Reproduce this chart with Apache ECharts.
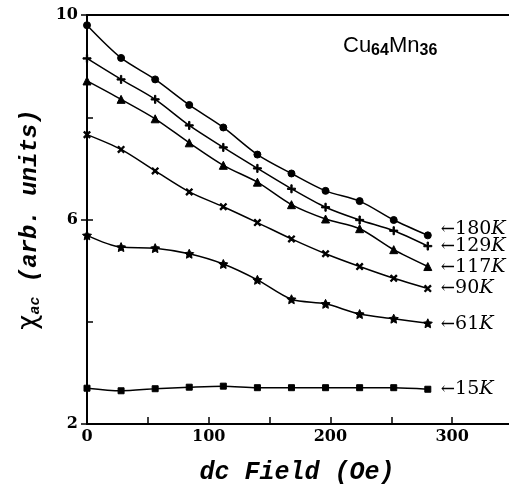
<!DOCTYPE html>
<html>
<head>
<meta charset="utf-8">
<script src="https://cdn.jsdelivr.net/npm/echarts@6/dist/echarts.min.js"></script>
<style>
  html, body { margin: 0; padding: 0; background: #fff; }
  #chart { width: 509px; height: 491px; }
</style>
</head>
<body>
<div id="chart"></div>
<script>
// dc field values (Oe)
const fields = [0, 28, 56, 84, 112, 140, 168, 196, 224, 252, 280];

// chi_ac (arb. units) at each temperature
const chi180 = [9.80, 9.16, 8.74, 8.24, 7.80, 7.27, 6.90, 6.56, 6.36, 5.99, 5.69];
const chi129 = [9.15, 8.74, 8.35, 7.84, 7.41, 7.00, 6.60, 6.24, 5.99, 5.78, 5.48];
const chi117 = [8.71, 8.35, 7.97, 7.50, 7.06, 6.73, 6.29, 6.01, 5.82, 5.41, 5.08];
const chi90  = [7.66, 7.37, 6.95, 6.54, 6.25, 5.94, 5.62, 5.33, 5.08, 4.85, 4.65];
const chi61  = [5.69, 5.46, 5.44, 5.33, 5.13, 4.82, 4.44, 4.35, 4.15, 4.06, 3.97];
const chi15  = [2.70, 2.65, 2.69, 2.72, 2.74, 2.71, 2.71, 2.71, 2.71, 2.71, 2.68];

const temps = ['180', '129', '117', '90', '61', '15'];

// axis tick labels
const xTickLabels = [0, 100, 200, 300];
const yTickLabels = [2, 6, 10];

const PLUS = 'path://M-1,-6 H1 V-1 H6 V1 H1 V6 H-1 V1 H-6 V-1 H-1 Z';
const STAR = 'path://M0,-10 L2.9,-4 9.5,-3.1 4.7,1.5 5.9,8.1 0,5 -5.9,8.1 -4.7,1.5 -9.5,-3.1 -2.9,-4 Z';

const serif = 'DejaVu Serif';

function pairs(ys) { return fields.map((x, i) => [x, ys[i]]); }

function makeSeries(name, ys, symbol, size, rotate, labelDy) {
  return {
    type: 'line',
    name: name + 'K',
    data: pairs(ys),
    smooth: 0.3,
    symbol: symbol,
    symbolSize: size,
    symbolRotate: rotate,
    showAllSymbol: true,
    lineStyle: { color: '#000', width: 1.5 },
    itemStyle: { color: '#000', borderColor: '#000' },
    emphasis: { disabled: true },
    endLabel: {
      show: true,
      offset: [5, labelDy],
      formatter: '{a|\u2190}{n|' + name + '}{k|K}',
      rich: {
        a: { fontFamily: serif, fontSize: 17, color: '#000' },
        n: { fontFamily: serif, fontSize: 19, color: '#000' },
        k: { fontFamily: serif, fontSize: 19, fontStyle: 'italic', color: '#000' }
      }
    }
  };
}

const chart = echarts.init(document.getElementById('chart'), null, { renderer: 'canvas' });

const option = {
  animation: false,
  backgroundColor: '#fff',
  grid: { left: 87, top: 15, width: 426, height: 409, outerBoundsMode: 'none', containLabel: false },
  xAxis: [
    {
      type: 'value', min: 0, max: 350, interval: 50,
      axisLine: { lineStyle: { color: '#000', width: 2 } },
      axisTick: { inside: true, length: 7, lineStyle: { color: '#000', width: 1.5 } },
      splitLine: { show: false },
      axisLabel: {
        color: '#000', fontFamily: serif, fontWeight: 'bold', fontSize: 16, margin: 5,
        formatter: v => xTickLabels.includes(v) ? String(v) : ''
      },
      name: 'dc Field (Oe)',
      nameLocation: 'middle',
      nameGap: 36,
      nameTextStyle: {
        color: '#000', fontFamily: 'Liberation Mono', fontStyle: 'italic',
        fontWeight: 'bold', fontSize: 25,
        padding: [0, 6, 0, 0]
      }
    },
    {
      type: 'value', position: 'top', min: 0, max: 350,
      axisLine: { show: true, lineStyle: { color: '#000', width: 2 } },
      axisTick: { show: false }, axisLabel: { show: false }, splitLine: { show: false }
    }
  ],
  yAxis: [
    {
      type: 'value', min: 2, max: 10, interval: 4,
      axisLine: { show: true, lineStyle: { color: '#000', width: 2 } },
      axisTick: { inside: false, length: 6, lineStyle: { color: '#000', width: 1.5 } },
      splitLine: { show: false },
      axisLabel: {
        color: '#000', fontFamily: serif, fontWeight: 'bold', fontSize: 16, margin: 9,
        formatter: v => yTickLabels.includes(v) ? String(v) : ''
      },
      name: '{c|\u03c7}{s|ac}{t| (arb. units)}',
      nameLocation: 'middle',
      nameGap: 44,
      nameRotate: 90,
      nameTextStyle: {
        rich: {
          c: { fontFamily: 'DejaVu Sans', fontSize: 26, color: '#000' },
          s: { fontFamily: 'Liberation Mono', fontStyle: 'italic', fontWeight: 'bold', fontSize: 15, color: '#000', verticalAlign: 'bottom', padding: [12, 0, 0, 0] },
          t: { fontFamily: 'Liberation Mono', fontStyle: 'italic', fontWeight: 'bold', fontSize: 24, color: '#000' }
        }
      }
    },
    {
      type: 'value', position: 'left', min: 2, max: 10, interval: 2,
      axisLine: { show: false },
      axisTick: { inside: true, length: 6, lineStyle: { color: '#000', width: 1.5 } },
      axisLabel: { show: false }, splitLine: { show: false }
    }
  ],
  graphic: [
    {
      type: 'text', left: 343, top: 35,
      style: {
        text: '{m|Cu}{s|64}{m|Mn}{s|36}',
        rich: {
          m: { fontFamily: 'Liberation Sans', fontSize: 22, fill: '#000' },
          s: { fontFamily: 'Liberation Sans', fontWeight: 'bold', fontSize: 16, fill: '#000', padding: [9, 0, 0, 0] }
        }
      }
    }
  ],
  series: [
    makeSeries(temps[0], chi180, 'circle', 7, 0, -6),
    makeSeries(temps[1], chi129, PLUS, 8, 0, 0),
    makeSeries(temps[2], chi117, 'triangle', 8, 0, 1),
    makeSeries(temps[3], chi90, PLUS, 8, 45, 0),
    makeSeries(temps[4], chi61, STAR, 9, 0, 1),
    makeSeries(temps[5], chi15, 'rect', 6, 0, 0)
  ]
};

chart.setOption(option);
</script>
</body>
</html>
